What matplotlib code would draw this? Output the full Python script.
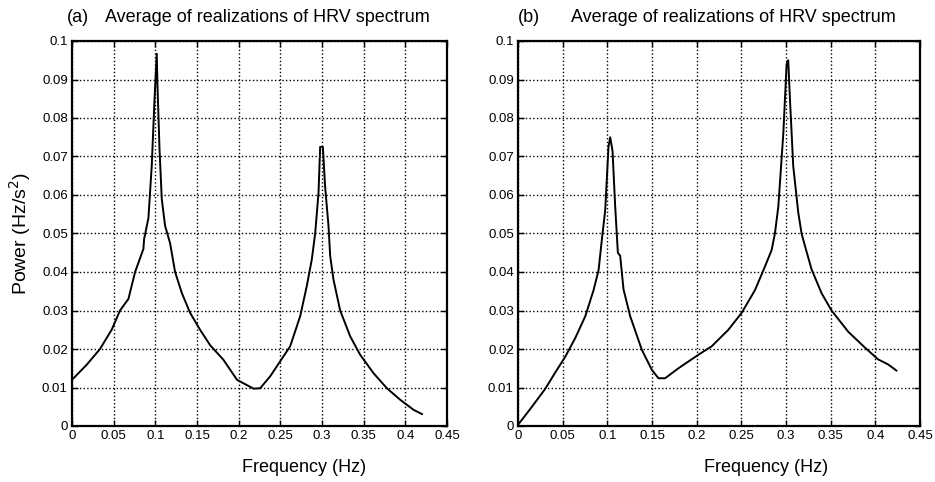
import numpy as np
import matplotlib.pyplot as plt

# panel (a)
freq_a = [0.0, 0.0176, 0.0336, 0.0476, 0.0576, 0.0677, 0.0757, 0.0857, 0.0865,
          0.0917, 0.0957, 0.099, 0.1017, 0.1025, 0.105, 0.1077, 0.1117, 0.1177,
          0.1237, 0.1317, 0.1417, 0.1537, 0.1657, 0.1817, 0.198, 0.2178, 0.2258,
          0.2378, 0.2498, 0.2618, 0.2738, 0.2818, 0.2878, 0.2918, 0.2958, 0.2978,
          0.301, 0.3038, 0.3078, 0.3098, 0.3138, 0.3218, 0.3338, 0.3458, 0.3619,
          0.3779, 0.3939, 0.4099, 0.42]
power_a = [0.012, 0.0159, 0.020, 0.025, 0.030, 0.033, 0.040, 0.046, 0.0485,
           0.054, 0.0676, 0.0847, 0.0967, 0.089, 0.072, 0.059, 0.052, 0.0475,
           0.040, 0.0346, 0.0294, 0.025, 0.021, 0.0172, 0.012, 0.0097, 0.0098,
           0.0129, 0.0168, 0.0207, 0.0285, 0.0364, 0.0433, 0.050, 0.0605, 0.0725,
           0.0725, 0.062, 0.052, 0.0442, 0.038, 0.030, 0.0233, 0.0185, 0.0137,
           0.0098, 0.0068, 0.0042, 0.0031]

# panel (b)
freq_b = [0.0, 0.0156, 0.0306, 0.0417, 0.0529, 0.064, 0.0753, 0.0846, 0.0902,
          0.0939, 0.0976, 0.1013, 0.1032, 0.1058, 0.1088, 0.1118, 0.1144, 0.1181,
          0.1256, 0.1386, 0.1498, 0.1572, 0.1647, 0.1796, 0.2019, 0.2168, 0.2355,
          0.2504, 0.2653, 0.2764, 0.2839, 0.2876, 0.2914, 0.297, 0.3007, 0.3025,
          0.3044, 0.3081, 0.3137, 0.3174, 0.3212, 0.3286, 0.3398, 0.351, 0.3696,
          0.3882, 0.4031, 0.4143, 0.4236]
power_b = [0.0003, 0.005, 0.0097, 0.0139, 0.018, 0.0228, 0.0285, 0.0353, 0.0405,
           0.0485, 0.056, 0.0725, 0.075, 0.0715, 0.057, 0.045, 0.0442, 0.0355,
           0.0285, 0.0198, 0.0146, 0.0124, 0.0124, 0.015, 0.0185, 0.0207, 0.025,
           0.0294, 0.0353, 0.0414, 0.0457, 0.050, 0.057, 0.076, 0.094, 0.095,
           0.085, 0.0675, 0.0555, 0.050, 0.0468, 0.0407, 0.0345, 0.030, 0.0245,
           0.0204, 0.0173, 0.016, 0.0144]

xticks = [0, 0.05, 0.1, 0.15, 0.2, 0.25, 0.3, 0.35, 0.4, 0.45]
xtick_labels = ['0', '0.05', '0.1', '0.15', '0.2', '0.25', '0.3', '0.35', '0.4', '0.45']
yticks = [0, 0.01, 0.02, 0.03, 0.04, 0.05, 0.06, 0.07, 0.08, 0.09, 0.1]
ytick_labels = ['0', '0.01', '0.02', '0.03', '0.04', '0.05', '0.06', '0.07', '0.08', '0.09', '0.1']

plt.rcParams['font.family'] = 'Liberation Sans'

fig = plt.figure(figsize=(9.35, 4.82), dpi=100)
ax_a = fig.add_axes([72 / 935, 1 - 426 / 482, 375 / 935, 385 / 482])
ax_b = fig.add_axes([518 / 935, 1 - 426 / 482, 402 / 935, 385 / 482])

for ax, f, p in [(ax_a, freq_a, power_a), (ax_b, freq_b, power_b)]:
    ax.plot(f, p, color='black', linewidth=1.4)
    ax.set_xlim(0, 0.45)
    ax.set_ylim(0, 0.1)
    ax.set_xticks(xticks)
    ax.set_xticklabels(xtick_labels)
    ax.set_yticks(yticks)
    ax.set_yticklabels(ytick_labels)
    ax.tick_params(direction='in', length=4, width=1, labelsize=9.5, pad=3,
                   top=True, right=True)
    ax.grid(True, linestyle=':', color='black', linewidth=1)
    for s in ax.spines.values():
        s.set_linewidth(1.6)
    ax.set_xlabel('Frequency (Hz)', fontsize=13)
    ax.xaxis.set_label_coords(0.618, -0.085)

ax_a.set_ylabel('Power (Hz/s$^2$)', fontsize=14)
ax_a.yaxis.set_label_coords(-0.105, 0.5)

fig.text(67 / 935, 1 - 17 / 482, '(a)', fontsize=13, ha='left', va='center')
fig.text(105 / 935, 1 - 17 / 482, 'Average of realizations of HRV spectrum',
         fontsize=13, ha='left', va='center')
fig.text(518 / 935, 1 - 17 / 482, '(b)', fontsize=13, ha='left', va='center')
fig.text(571 / 935, 1 - 17 / 482, 'Average of realizations of HRV spectrum',
         fontsize=13, ha='left', va='center')

fig.savefig('out.png', dpi=100)
